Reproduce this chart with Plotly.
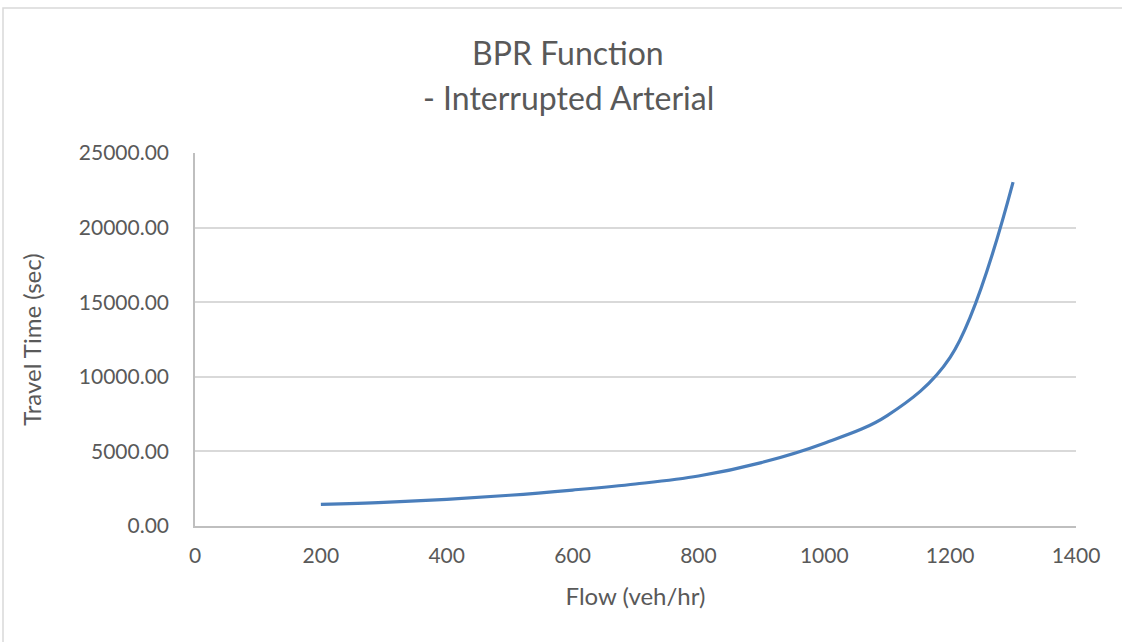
import plotly.graph_objects as go

flow = [200, 300, 400, 500, 600, 700, 800, 900, 1000, 1100, 1200, 1300]
travel_time = [1450, 1590, 1790, 2060, 2410, 2815, 3350, 4250, 5550, 7400, 11300, 23050]

x_ticks = [0, 200, 400, 600, 800, 1000, 1200, 1400]
y_ticks = [0, 5000, 10000, 15000, 20000, 25000]

W, H = 1122, 642
L, R, T, B = 195, 46, 153, 116
pw, ph = W - L - R, H - T - B

def px(xp):
    return (xp - L) / pw

def py(yp):
    return (H - B - yp) / ph

FONT = "Lato"
GRAY = "#595959"

fig = go.Figure()
fig.add_trace(go.Scatter(
    x=flow, y=travel_time, mode="lines",
    line=dict(color="#4A7EBB", width=3.2, shape="spline", smoothing=1.0),
    showlegend=False, hoverinfo="x+y",
))

fig.update_layout(
    width=W, height=H,
    margin=dict(l=L, r=R, t=T, b=B, pad=0),
    paper_bgcolor="white", plot_bgcolor="white",
    font=dict(family=FONT, color=GRAY),
    xaxis=dict(
        range=[0, 1400], tickvals=x_ticks, ticktext=[str(v) for v in x_ticks],
        showgrid=False, zeroline=False, showline=True, linecolor="#bfbfbf", linewidth=1.5,
        ticks="", tickfont=dict(size=21, color=GRAY, family=FONT), ticklabelstandoff=10,
        title=dict(text="Flow (veh/hr)", font=dict(size=24, color=GRAY, family=FONT), standoff=22),
        fixedrange=True,
    ),
    yaxis=dict(
        range=[0, 25000], tickvals=y_ticks, ticktext=[f"{v:.2f}" for v in y_ticks],
        showgrid=True, gridcolor="#d9d9d9", gridwidth=1.5, zeroline=False,
        showline=True, linecolor="#bfbfbf", linewidth=1.5,
        ticks="", tickfont=dict(size=21, color=GRAY, family=FONT), ticklabelstandoff=20,
        title=dict(text="Travel Time (sec)", font=dict(size=24, color=GRAY, family=FONT), standoff=30),
        fixedrange=True,
    ),
    annotations=[
        dict(text="BPR Function", x=px(568), y=py(52), xref="paper", yref="paper",
             showarrow=False, font=dict(size=32, color=GRAY, family=FONT), xanchor="center", yanchor="middle"),
        dict(text="- Interrupted Arterial", x=px(568), y=py(98), xref="paper", yref="paper",
             showarrow=False, font=dict(size=32, color=GRAY, family=FONT), xanchor="center", yanchor="middle"),
    ],
    shapes=[
        dict(type="rect", xref="paper", yref="paper",
             x0=px(3), x1=px(1140), y0=py(660), y1=py(8),
             line=dict(color="#d9d9d9", width=1.5), fillcolor="rgba(0,0,0,0)", layer="below"),
    ],
)

fig.write_html("out.html")
